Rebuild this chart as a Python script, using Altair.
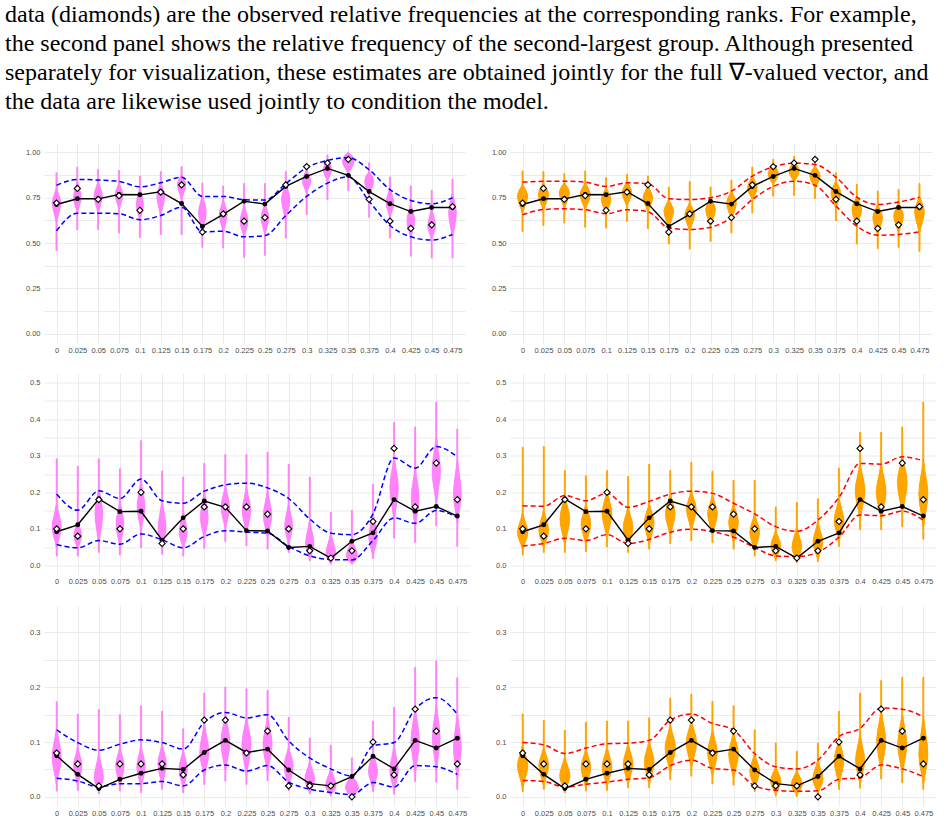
import altair as alt
import pandas as pd

# ---------------- text ----------------
TEXT_LINES = [
    "data (diamonds) are the observed relative frequencies at the corresponding ranks. For example,",
    "the second panel shows the relative frequency of the second-largest group. Although presented",
    "separately for visualization, these estimates are obtained jointly for the full \u2207-valued vector, and",
    "the data are likewise used jointly to condition the model.",
]

# ---------------- categories ----------------
CATS = [0, 0.025, 0.05, 0.075, 0.1, 0.125, 0.15, 0.175, 0.2, 0.225,
        0.25, 0.275, 0.3, 0.325, 0.35, 0.375, 0.4, 0.425, 0.45, 0.475]

# ---------------- row 1 ----------------
MEAN_R1 = [0.712, 0.743, 0.743, 0.767, 0.765, 0.782, 0.717, 0.591, 0.657, 0.730,
           0.714, 0.811, 0.866, 0.910, 0.872, 0.783, 0.716, 0.673, 0.695, 0.695]
DATA_R1 = [0.72, 0.80, 0.74, 0.76, 0.68, 0.78, 0.82, 0.56, 0.66, 0.62,
           0.64, 0.82, 0.92, 0.94, 0.96, 0.74, 0.62, 0.58, 0.60, 0.70]
L1_UP = [0.817, 0.850, 0.846, 0.839, 0.809, 0.831, 0.862, 0.756, 0.756, 0.738,
         0.736, 0.826, 0.914, 0.954, 0.969, 0.903, 0.794, 0.734, 0.716, 0.749]
L1_LOW = [0.567, 0.664, 0.664, 0.661, 0.628, 0.651, 0.697, 0.561, 0.565, 0.534,
          0.541, 0.651, 0.756, 0.829, 0.864, 0.730, 0.596, 0.534, 0.516, 0.547]
R1_UP = [0.835, 0.839, 0.840, 0.835, 0.811, 0.831, 0.826, 0.743, 0.739, 0.749,
         0.785, 0.868, 0.919, 0.939, 0.932, 0.862, 0.752, 0.712, 0.725, 0.752]
R1_LOW = [0.655, 0.684, 0.688, 0.683, 0.661, 0.683, 0.672, 0.583, 0.574, 0.587,
          0.639, 0.739, 0.811, 0.840, 0.818, 0.703, 0.593, 0.543, 0.547, 0.561]

V1L_MIN = [0.459, 0.574, 0.574, 0.556, 0.532, 0.547, 0.547, 0.477, 0.473, 0.422,
           0.433, 0.528, 0.657, 0.739, 0.789, 0.642, 0.528, 0.428, 0.418, 0.418]
V1L_LO = [0.611, 0.666, 0.666, 0.684, 0.620, 0.648, 0.739, 0.565, 0.556, 0.528,
          0.547, 0.620, 0.776, 0.840, 0.886, 0.767, 0.639, 0.528, 0.519, 0.528]
V1L_MODE = [0.720, 0.750, 0.758, 0.767, 0.712, 0.758, 0.822, 0.666, 0.657, 0.620,
            0.639, 0.739, 0.840, 0.905, 0.950, 0.840, 0.721, 0.620, 0.593, 0.666]
V1L_HI = [0.804, 0.840, 0.840, 0.831, 0.804, 0.840, 0.877, 0.767, 0.739, 0.712,
          0.721, 0.831, 0.905, 0.960, 0.996, 0.895, 0.804, 0.721, 0.694, 0.776]
V1L_MAX = [0.886, 0.917, 0.905, 0.899, 0.868, 0.892, 0.919, 0.829, 0.813, 0.826,
           0.826, 0.892, 0.928, 0.983, 1.000, 0.941, 0.862, 0.813, 0.789, 0.850]
V1L_HW = [0.0052, 0.0048, 0.0052, 0.0048, 0.0044, 0.0048, 0.0052, 0.0048, 0.0048, 0.0048,
          0.0048, 0.0052, 0.0052, 0.0052, 0.0072, 0.0056, 0.0048, 0.0048, 0.0048, 0.0048]

V1R_MIN = [0.565, 0.598, 0.611, 0.587, 0.583, 0.620, 0.580, 0.495, 0.468, 0.510,
           0.556, 0.666, 0.758, 0.763, 0.745, 0.624, 0.495, 0.470, 0.477, 0.455]
V1R_LO = [0.666, 0.684, 0.694, 0.684, 0.666, 0.703, 0.675, 0.583, 0.565, 0.593,
          0.629, 0.739, 0.822, 0.840, 0.804, 0.694, 0.593, 0.547, 0.556, 0.556]
V1R_MODE = [0.758, 0.767, 0.776, 0.767, 0.739, 0.776, 0.749, 0.675, 0.657, 0.684,
            0.721, 0.804, 0.881, 0.895, 0.868, 0.776, 0.684, 0.639, 0.648, 0.672]
V1R_HI = [0.822, 0.831, 0.831, 0.831, 0.804, 0.840, 0.813, 0.739, 0.721, 0.749,
          0.785, 0.868, 0.932, 0.950, 0.923, 0.840, 0.758, 0.712, 0.721, 0.758]
V1R_MAX = [0.895, 0.892, 0.881, 0.895, 0.859, 0.877, 0.868, 0.807, 0.837, 0.807,
           0.844, 0.917, 0.960, 0.976, 0.947, 0.886, 0.822, 0.785, 0.794, 0.826]
V1R_HW = [0.0064, 0.0064, 0.0064, 0.0064, 0.0060, 0.0060, 0.0060, 0.0060, 0.0060, 0.0060,
          0.0060, 0.0060, 0.0064, 0.0064, 0.0064, 0.0060, 0.0060, 0.0060, 0.0060, 0.0060]

# ---------------- row 2 ----------------
MEAN_R2 = [0.092, 0.111, 0.182, 0.147, 0.148, 0.069, 0.130, 0.176, 0.159, 0.095,
           0.094, 0.049, 0.052, 0.020, 0.066, 0.089, 0.180, 0.148, 0.161, 0.135]
DATA_R2 = [0.10, 0.08, 0.18, 0.10, 0.20, 0.06, 0.10, 0.16, 0.16, 0.16,
           0.14, 0.10, 0.04, 0.02, 0.04, 0.12, 0.32, 0.16, 0.28, 0.18]
L2_UP = [0.195, 0.151, 0.204, 0.183, 0.236, 0.177, 0.170, 0.203, 0.220, 0.225,
         0.212, 0.183, 0.127, 0.088, 0.084, 0.141, 0.294, 0.266, 0.325, 0.297]
L2_LOW = [0.057, 0.048, 0.068, 0.058, 0.086, 0.070, 0.048, 0.079, 0.095, 0.091,
          0.088, 0.052, 0.026, 0.016, 0.015, 0.068, 0.130, 0.115, 0.150, 0.131]
R2_UP = [0.163, 0.162, 0.191, 0.177, 0.197, 0.159, 0.175, 0.195, 0.203, 0.197,
         0.170, 0.141, 0.106, 0.093, 0.124, 0.186, 0.279, 0.277, 0.297, 0.286]
R2_LOW = [0.053, 0.060, 0.074, 0.068, 0.084, 0.060, 0.071, 0.091, 0.099, 0.092,
          0.077, 0.049, 0.026, 0.024, 0.036, 0.077, 0.138, 0.136, 0.148, 0.124]

V2L_MIN = [0.026, 0.026, 0.036, 0.029, 0.049, 0.031, 0.026, 0.047, 0.066, 0.054,
           0.045, 0.036, 0.013, 0.004, 0.004, 0.019, 0.075, 0.063, 0.109, 0.052]
V2L_LO = [0.049, 0.045, 0.058, 0.049, 0.095, 0.040, 0.045, 0.072, 0.099, 0.086,
          0.077, 0.054, 0.017, 0.006, 0.006, 0.026, 0.122, 0.104, 0.168, 0.113]
V2L_MODE = [0.104, 0.081, 0.141, 0.113, 0.159, 0.104, 0.090, 0.131, 0.159, 0.150,
            0.136, 0.109, 0.058, 0.031, 0.026, 0.077, 0.214, 0.186, 0.259, 0.195]
V2L_HI = [0.168, 0.122, 0.214, 0.177, 0.232, 0.177, 0.150, 0.204, 0.218, 0.214,
          0.204, 0.168, 0.122, 0.086, 0.068, 0.141, 0.296, 0.268, 0.350, 0.291]
V2L_MAX = [0.291, 0.271, 0.291, 0.264, 0.341, 0.258, 0.241, 0.279, 0.303, 0.303,
           0.309, 0.276, 0.241, 0.145, 0.150, 0.221, 0.391, 0.378, 0.446, 0.373]
V2L_HW = [0.0056, 0.0048, 0.0048, 0.0048, 0.0048, 0.0048, 0.0048, 0.0048, 0.0052, 0.0052,
          0.0052, 0.0048, 0.0052, 0.0060, 0.0068, 0.0052, 0.0052, 0.0048, 0.0052, 0.0048]

V2R_MIN = [0.029, 0.036, 0.036, 0.038, 0.051, 0.036, 0.045, 0.060, 0.068, 0.063,
           0.045, 0.026, 0.013, 0.008, 0.011, 0.052, 0.098, 0.098, 0.106, 0.072]
V2R_LO = [0.045, 0.049, 0.058, 0.058, 0.077, 0.049, 0.058, 0.081, 0.095, 0.086,
          0.063, 0.040, 0.017, 0.013, 0.017, 0.068, 0.127, 0.127, 0.141, 0.104]
V2R_MODE = [0.090, 0.095, 0.127, 0.113, 0.141, 0.104, 0.118, 0.141, 0.154, 0.141,
            0.118, 0.090, 0.054, 0.049, 0.063, 0.122, 0.204, 0.200, 0.227, 0.195]
V2R_HI = [0.141, 0.150, 0.191, 0.168, 0.204, 0.159, 0.168, 0.195, 0.204, 0.191,
          0.168, 0.141, 0.095, 0.104, 0.118, 0.182, 0.277, 0.277, 0.300, 0.286]
V2R_MAX = [0.323, 0.325, 0.259, 0.245, 0.259, 0.243, 0.276, 0.259, 0.282, 0.257,
           0.232, 0.232, 0.159, 0.172, 0.182, 0.266, 0.364, 0.364, 0.378, 0.446]
V2R_HW = [0.0064, 0.0060, 0.0060, 0.0060, 0.0060, 0.0060, 0.0060, 0.0060, 0.0060, 0.0060,
          0.0060, 0.0060, 0.0060, 0.0060, 0.0060, 0.0060, 0.0060, 0.0060, 0.0060, 0.0056]

# ---------------- row 3 ----------------
MEAN_R3 = [0.075, 0.041, 0.015, 0.032, 0.043, 0.052, 0.050, 0.081, 0.103, 0.081,
           0.087, 0.049, 0.024, 0.020, 0.037, 0.074, 0.051, 0.103, 0.089, 0.107]
DATA_R3 = [0.08, 0.06, 0.02, 0.06, 0.06, 0.06, 0.04, 0.14, 0.14, 0.08,
           0.12, 0.02, 0.02, 0.02, 0.00, 0.10, 0.04, 0.16, 0.12, 0.06]
L3_UP = [0.122, 0.099, 0.085, 0.096, 0.104, 0.099, 0.087, 0.136, 0.154, 0.144,
         0.150, 0.102, 0.071, 0.051, 0.038, 0.093, 0.099, 0.160, 0.181, 0.151]
L3_LOW = [0.034, 0.029, 0.018, 0.024, 0.024, 0.028, 0.020, 0.049, 0.058, 0.047,
          0.057, 0.027, 0.014, 0.008, 0.004, 0.026, 0.018, 0.057, 0.055, 0.041]
R3_UP = [0.099, 0.095, 0.079, 0.089, 0.097, 0.098, 0.103, 0.140, 0.151, 0.134,
         0.122, 0.079, 0.055, 0.051, 0.067, 0.110, 0.125, 0.162, 0.160, 0.146]
R3_LOW = [0.030, 0.028, 0.018, 0.023, 0.027, 0.032, 0.035, 0.057, 0.067, 0.052,
          0.049, 0.020, 0.012, 0.010, 0.011, 0.032, 0.035, 0.058, 0.051, 0.037]

V3L_MIN = [0.011, 0.012, 0.006, 0.011, 0.008, 0.014, 0.008, 0.023, 0.029, 0.023,
           0.030, 0.012, 0.006, 0.002, 0.001, 0.010, 0.005, 0.028, 0.027, 0.014]
V3L_LO = [0.023, 0.020, 0.009, 0.017, 0.017, 0.020, 0.014, 0.035, 0.047, 0.038,
          0.044, 0.017, 0.008, 0.004, 0.003, 0.014, 0.011, 0.041, 0.047, 0.032]
V3L_MODE = [0.072, 0.057, 0.035, 0.057, 0.054, 0.060, 0.051, 0.081, 0.099, 0.096,
            0.096, 0.057, 0.032, 0.020, 0.017, 0.047, 0.047, 0.102, 0.108, 0.090]
V3L_HI = [0.124, 0.090, 0.078, 0.090, 0.093, 0.096, 0.084, 0.133, 0.151, 0.145,
          0.145, 0.090, 0.063, 0.051, 0.038, 0.081, 0.093, 0.163, 0.169, 0.151]
V3L_MAX = [0.173, 0.151, 0.159, 0.150, 0.166, 0.156, 0.124, 0.189, 0.200, 0.197,
           0.194, 0.145, 0.107, 0.094, 0.071, 0.138, 0.163, 0.236, 0.248, 0.217]
V3L_HW = [0.0056, 0.0052, 0.0056, 0.0052, 0.0052, 0.0052, 0.0052, 0.0056, 0.0056, 0.0056,
          0.0056, 0.0056, 0.0060, 0.0064, 0.0080, 0.0056, 0.0052, 0.0052, 0.0048, 0.0048]

V3R_MIN = [0.010, 0.014, 0.008, 0.011, 0.012, 0.017, 0.017, 0.032, 0.038, 0.024,
           0.022, 0.010, 0.002, 0.001, 0.005, 0.014, 0.016, 0.033, 0.026, 0.014]
V3R_LO = [0.017, 0.020, 0.011, 0.017, 0.020, 0.023, 0.023, 0.044, 0.054, 0.038,
          0.035, 0.014, 0.005, 0.004, 0.008, 0.023, 0.023, 0.047, 0.041, 0.023]
V3R_MODE = [0.057, 0.057, 0.038, 0.054, 0.054, 0.060, 0.063, 0.090, 0.099, 0.081,
            0.078, 0.047, 0.029, 0.023, 0.032, 0.066, 0.066, 0.102, 0.096, 0.078]
V3R_HI = [0.093, 0.090, 0.072, 0.087, 0.090, 0.096, 0.102, 0.130, 0.139, 0.121,
          0.117, 0.078, 0.054, 0.047, 0.066, 0.105, 0.114, 0.157, 0.151, 0.145]
V3R_MAX = [0.151, 0.139, 0.121, 0.136, 0.138, 0.138, 0.144, 0.180, 0.187, 0.174,
           0.166, 0.122, 0.098, 0.083, 0.098, 0.156, 0.189, 0.212, 0.218, 0.218]
V3R_HW = [0.0064, 0.0060, 0.0064, 0.0060, 0.0060, 0.0060, 0.0060, 0.0064, 0.0064, 0.0060,
          0.0060, 0.0060, 0.0064, 0.0068, 0.0064, 0.0060, 0.0056, 0.0056, 0.0056, 0.0056]

# ---------------- styles ----------------
PINK = "#FF83FA"
ORANGE = "#FFA500"
BLUE = "#0000FF"
RED = "#FF0000"
GRID = "#EBEBEB"
LABEL = "#4D4D4D"
SERIF = "Liberation Serif"
SANS = "Liberation Sans"
TAIL = 0.0008          # half-width of violin tails (x units)
# violin body template: distance from the mode (as a fraction of mode-to-body-edge)
# and the relative half-width there (bell-shaped outline)
TPL_DIST = [1.3, 1.0, 0.75, 0.5, 0.25]
TPL_WIDTH = [0.04, 0.135, 0.325, 0.61, 0.88]
X_DOMAIN = [-0.015, 0.49]


def violin_profiles(vmin, lo, mode, hi, vmax, hw):
    """One outline profile (y, half-width) per violin, bottom to top."""
    out = []
    for i, c in enumerate(CATS):
        w, m = hw[i], mode[i]
        prof = [(vmin[i], TAIL)]
        prof += [(m - d * (m - lo[i]), max(TAIL, f * w)) for d, f in zip(TPL_DIST, TPL_WIDTH)]
        prof += [(m, w)]
        prof += [(m + d * (hi[i] - m), max(TAIL, f * w))
                 for d, f in zip(reversed(TPL_DIST), reversed(TPL_WIDTH))]
        prof += [(vmax[i], TAIL)]
        clean = []
        for y, h in prof:
            if y < vmin[i] or y > vmax[i]:
                continue
            if clean and y <= clean[-1][0] + 1e-4:
                continue
            clean.append((y, h))
        out.append((c, clean))
    return out


def violin_outline(profiles):
    # closed outline: right edge upward, then left edge downward
    recs = []
    for i, (c, prof) in enumerate(profiles):
        k = 0
        for y, h in prof:
            recs.append({"v": i, "k": k, "y": y, "x": c + h})
            k += 1
        for y, h in reversed(prof):
            recs.append({"v": i, "k": k, "y": y, "x": c - h})
            k += 1
    return pd.DataFrame(recs)


def violin_trail(profiles):
    recs = []
    for i, (c, prof) in enumerate(profiles):
        for k, (y, h) in enumerate(prof):
            recs.append({"v": i, "k": k, "y": y, "x": c, "w": 2 * h})
    return pd.DataFrame(recs)


def panel(vio, mean, data, up, low, fill, dash, ydom, yvals, yfmt, ymult,
          width, height, yext):
    xax = alt.Axis(values=CATS, labelExpr="format(datum.value, '~g')", title=None,
                   grid=True, gridColor=GRID, gridWidth=1, ticks=False, domain=False,
                   labelFontSize=7.5, labelFont=SANS, labelColor=LABEL,
                   labelPadding=3, labelOverlap=False, labelFlush=False, minExtent=15)
    yax = alt.Axis(values=yvals,
                   labelExpr=f"abs(datum.value*{ymult} - round(datum.value*{ymult})) < 1e-6 ? format(datum.value, '{yfmt}') : ''",
                   title=None, grid=True, gridColor=GRID, gridWidth=1, ticks=False,
                   domain=False, labelFontSize=7.5, labelFont=SANS,
                   labelColor=LABEL, labelPadding=4, labelOverlap=False,
                   labelFlush=False, minExtent=yext)
    xs = alt.Scale(domain=X_DOMAIN, nice=False, zero=False)
    ys = alt.Scale(domain=ydom, nice=False, zero=False)
    X = alt.X("x:Q", scale=xs, axis=xax)
    Y = alt.Y("y:Q", scale=ys, axis=yax)

    profiles = violin_profiles(*vio)
    ppu = width / (X_DOMAIN[1] - X_DOMAIN[0])   # pixels per x unit
    trail = alt.Chart(violin_trail(profiles)).mark_trail(color=fill, opacity=1).encode(
        x=X, y=Y, detail="v:N", order="k:Q",
        size=alt.Size("w:Q", scale=alt.Scale(domain=[0, 0.02], range=[0, 0.02 * ppu]),
                      legend=None),
    )
    shape = alt.Chart(violin_outline(profiles)).mark_line(
        fill=fill, stroke=fill, strokeWidth=0.4, interpolate="linear-closed",
        opacity=1, fillOpacity=1).encode(x=X, y=Y, detail="v:N", order="k:Q")

    band = pd.DataFrame(
        [{"x": c, "y": u, "s": "up"} for c, u in zip(CATS, up)]
        + [{"x": c, "y": l, "s": "low"} for c, l in zip(CATS, low)]
    )
    bands = alt.Chart(band).mark_line(color=dash, strokeDash=[5, 3], strokeWidth=1.5,
                                      interpolate="monotone").encode(
        x=X, y=Y, detail="s:N")

    mdf = pd.DataFrame({"x": CATS, "y": mean})
    mline = alt.Chart(mdf).mark_line(color="black", strokeWidth=1.4).encode(x=X, y=Y)
    mpts = alt.Chart(mdf).mark_circle(color="black", size=24, opacity=1).encode(x=X, y=Y)

    ddf = pd.DataFrame({"x": CATS, "y": data})
    dpts = alt.Chart(ddf).mark_point(shape="diamond", filled=True, fill="white",
                                     stroke="black", strokeWidth=1.1, size=38,
                                     opacity=1).encode(x=X, y=Y)

    return alt.layer(trail, shape, bands, mline, mpts, dpts).properties(
        width=width, height=height)


Y1 = [0, 0.125, 0.25, 0.375, 0.5, 0.625, 0.75, 0.875, 1.0]
Y2 = [0, 0.05, 0.1, 0.15, 0.2, 0.25, 0.3, 0.35, 0.4, 0.45, 0.5]
Y3 = [0, 0.05, 0.1, 0.15, 0.2, 0.25, 0.3]

p11 = panel((V1L_MIN, V1L_LO, V1L_MODE, V1L_HI, V1L_MAX, V1L_HW), MEAN_R1, DATA_R1,
            L1_UP, L1_LOW, PINK, BLUE, [-0.05, 1.05], Y1, ".2f", 4, 421, 200, 44)
p12 = panel((V1R_MIN, V1R_LO, V1R_MODE, V1R_HI, V1R_MAX, V1R_HW), MEAN_R1, DATA_R1,
            R1_UP, R1_LOW, ORANGE, RED, [-0.05, 1.05], Y1, ".2f", 4, 422, 200, 35)
p21 = panel((V2L_MIN, V2L_LO, V2L_MODE, V2L_HI, V2L_MAX, V2L_HW), MEAN_R2, DATA_R2,
            L2_UP, L2_LOW, PINK, BLUE, [-0.025, 0.525], Y2, ".1f", 10, 426, 201, 39)
p22 = panel((V2R_MIN, V2R_LO, V2R_MODE, V2R_HI, V2R_MAX, V2R_HW), MEAN_R2, DATA_R2,
            R2_UP, R2_LOW, ORANGE, RED, [-0.025, 0.525], Y2, ".1f", 10, 426, 201, 30)
p31 = panel((V3L_MIN, V3L_LO, V3L_MODE, V3L_HI, V3L_MAX, V3L_HW), MEAN_R3, DATA_R3,
            L3_UP, L3_LOW, PINK, BLUE, [-0.0167, 0.35], Y3, ".1f", 10, 426, 201, 35)
p32 = panel((V3R_MIN, V3R_LO, V3R_MODE, V3R_HI, V3R_MAX, V3R_HW), MEAN_R3, DATA_R3,
            R3_UP, R3_LOW, ORANGE, RED, [-0.0167, 0.35], Y3, ".1f", 10, 426, 201, 30)

row1 = alt.hconcat(p11, p12, spacing=10)
row2 = alt.hconcat(p21, p22, spacing=10)
row3 = alt.hconcat(p31, p32, spacing=10)

chart = alt.vconcat(row1, row2, row3, spacing=15.5).properties(
    title=alt.TitleParams(text=TEXT_LINES, anchor="start", frame="bounds",
                          font=SERIF, fontSize=24, fontWeight="normal",
                          color="black", lineHeight=29, offset=29, dx=5),
    padding={"left": 0, "top": 3, "right": 5, "bottom": 0},
).configure_view(stroke=None)

chart.save("out.html", embed_options={"renderer": "svg", "actions": False})
